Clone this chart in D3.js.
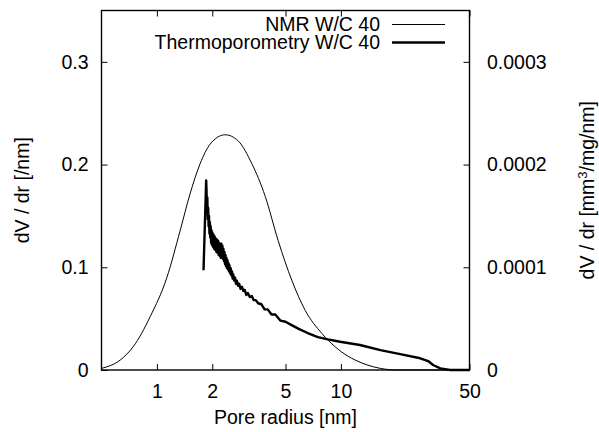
<!DOCTYPE html>
<html>
<head>
<meta charset="utf-8">
<script src="https://cdn.jsdelivr.net/npm/d3@7"></script>
<style>
  body { margin: 0; background: #fff; }
  svg { font-family: "Liberation Sans", Arial, Helvetica, sans-serif; }
  .axis text { font-size: 19.5px; fill: #000; }
  .axis line { stroke: #000; stroke-width: 1; }
</style>
</head>
<body>
<svg></svg>
<script>
var width = 599,
    height = 432;

// pore radius [nm] -> NMR dV/dr [/nm] (left axis)
var nmrRadius = [0.5, 0.632, 0.743, 0.92, 1.133, 1.339, 1.517, 1.719, 1.949, 2.35, 2.766, 3.28, 3.88, 4.56, 5.42, 6.40, 7.88, 9.31, 10.96, 11.96, 13.9, 16.36, 20.2, 30, 50];
var nmrValues = [0.0016, 0.0097, 0.0226, 0.052, 0.090, 0.136, 0.172, 0.201, 0.220, 0.229, 0.223, 0.201, 0.169, 0.126, 0.087, 0.058, 0.0356, 0.0226, 0.0133, 0.0097, 0.0049, 0.0016, 0, 0, 0];

// pore radius [nm] -> thermoporometry dV/dr [mm3/mg/nm] (right axis)
var thermoRadius = [
    1.792, 1.853,
    1.86, 1.87, 1.88, 1.89, 1.90, 1.91, 1.92, 1.93, 1.94, 1.95, 1.96, 1.97, 1.98, 1.99, 2.00,
    2.015, 2.03, 2.045, 2.06, 2.075, 2.09, 2.105, 2.12, 2.135, 2.15, 2.165, 2.18, 2.195, 2.21, 2.225,
    2.24, 2.255, 2.27, 2.285, 2.30, 2.315, 2.33, 2.345, 2.36, 2.375, 2.39, 2.405, 2.42, 2.435, 2.45, 2.465, 2.48,
    2.50, 2.52, 2.54, 2.56, 2.58, 2.60, 2.63, 2.66, 2.69, 2.72, 2.76, 2.80, 2.85, 2.90, 2.95, 3.00,
    3.06, 3.12, 3.20, 3.28, 3.36, 3.45, 3.55, 3.70, 3.85, 4.0, 4.2, 4.4, 4.7, 5.0, 5.4, 5.9,
    6.6, 7.5, 8.5, 9.9, 12.7, 16.4, 21.0, 27.0, 29.8, 31.7, 34.7, 39.3, 50];
var thermoValues = [
    0.971e-4, 1.845e-4,
    1.76e-4, 1.58e-4, 1.68e-4, 1.47e-4, 1.58e-4, 1.40e-4, 1.50e-4, 1.33e-4, 1.44e-4, 1.29e-4, 1.40e-4, 1.24e-4, 1.36e-4, 1.22e-4, 1.34e-4,
    1.20e-4, 1.32e-4, 1.18e-4, 1.30e-4, 1.17e-4, 1.28e-4, 1.15e-4, 1.27e-4, 1.14e-4, 1.26e-4, 1.12e-4, 1.24e-4, 1.11e-4, 1.22e-4, 1.09e-4,
    1.23e-4, 1.11e-4, 1.21e-4, 1.08e-4, 1.18e-4, 1.06e-4, 1.15e-4, 1.03e-4, 1.12e-4, 1.01e-4, 1.09e-4, 0.99e-4, 1.07e-4, 0.98e-4, 1.04e-4, 0.96e-4, 1.02e-4,
    0.94e-4, 0.99e-4, 0.92e-4, 0.96e-4, 0.89e-4, 0.93e-4, 0.87e-4, 0.90e-4, 0.84e-4, 0.87e-4, 0.82e-4, 0.84e-4, 0.79e-4, 0.81e-4, 0.77e-4, 0.78e-4,
    0.73e-4, 0.75e-4, 0.71e-4, 0.72e-4, 0.68e-4, 0.68e-4, 0.65e-4, 0.64e-4, 0.59e-4, 0.59e-4, 0.54e-4, 0.54e-4, 0.48e-4, 0.47e-4, 0.437e-4, 0.40e-4,
    0.36e-4, 0.32e-4, 0.298e-4, 0.275e-4, 0.243e-4, 0.194e-4, 0.155e-4, 0.114e-4, 0.087e-4, 0.049e-4, 0.016e-4, 0, 0];

var xTicks = [1, 2, 5, 10, 50];
var yTicks = [0, 0.1, 0.2, 0.3];
var y2Ticks = [0, 0.0001, 0.0002, 0.0003];

var legendLabels = ["NMR W/C 40", "Thermoporometry W/C 40"];

var plot = { left: 101.5, right: 469.5, top: 10.5, bottom: 370 };

var svg = d3.select("svg")
    .attr("width", width)
    .attr("height", height);

var x = d3.scaleLog()
    .domain([0.5, 50])
    .range([plot.left, plot.right]);

var y = d3.scaleLinear()
    .domain([0, 0.35])
    .range([plot.bottom, plot.top]);

var y2 = d3.scaleLinear()
    .domain([0, 0.00035])
    .range([plot.bottom, plot.top]);

function zeroOr(fmt) {
    return function (d) { return d === 0 ? "0" : fmt(d); };
}

// axes, ticks pointing inward
svg.append("g")
    .attr("class", "axis")
    .attr("transform", "translate(0," + plot.bottom + ")")
    .call(d3.axisBottom(x).tickValues(xTicks).tickFormat(d3.format("d"))
        .tickSizeInner(-6).tickSizeOuter(0).tickPadding(14))
    .call(function (g) { g.select(".domain").remove(); });

svg.append("g")
    .attr("class", "axis")
    .attr("transform", "translate(0," + plot.top + ")")
    .call(d3.axisTop(x).tickValues(xTicks).tickFormat("")
        .tickSizeInner(-6).tickSizeOuter(0))
    .call(function (g) { g.select(".domain").remove(); });

svg.append("g")
    .attr("class", "axis")
    .attr("transform", "translate(" + plot.left + ",0)")
    .call(d3.axisLeft(y).tickValues(yTicks).tickFormat(zeroOr(d3.format(".1f")))
        .tickSizeInner(-6).tickSizeOuter(0).tickPadding(13))
    .call(function (g) { g.select(".domain").remove(); });

svg.append("g")
    .attr("class", "axis")
    .attr("transform", "translate(" + plot.right + ",0)")
    .call(d3.axisRight(y2).tickValues(y2Ticks).tickFormat(zeroOr(d3.format(".4f")))
        .tickSizeInner(-6).tickSizeOuter(0).tickPadding(17.5))
    .call(function (g) { g.select(".domain").remove(); });

// frame
svg.append("rect")
    .attr("x", plot.left)
    .attr("y", plot.top)
    .attr("width", plot.right - plot.left)
    .attr("height", plot.bottom - plot.top)
    .attr("fill", "none")
    .attr("stroke", "#000")
    .attr("stroke-width", 1.4);

// curves
var nmrLine = d3.line()
    .x(function (d, i) { return x(nmrRadius[i]); })
    .y(function (d) { return y(d); })
    .curve(d3.curveMonotoneX);

var thermoLine = d3.line()
    .x(function (d, i) { return x(thermoRadius[i]); })
    .y(function (d) { return y2(d); });

svg.append("path")
    .datum(nmrValues)
    .attr("fill", "none")
    .attr("stroke", "#000")
    .attr("stroke-width", 1)
    .attr("d", nmrLine);

svg.append("path")
    .datum(thermoValues)
    .attr("fill", "none")
    .attr("stroke", "#000")
    .attr("stroke-width", 2.4)
    .attr("stroke-linejoin", "round")
    .attr("d", thermoLine);

// legend
var legend = svg.append("g")
    .selectAll("g")
    .data(legendLabels)
    .enter()
    .append("g")
    .attr("transform", function (d, i) { return "translate(0," + (24.5 + i * 18) + ")"; });

legend.append("text")
    .attr("x", 380)
    .attr("y", 6.8)
    .attr("text-anchor", "end")
    .style("font-size", "19.5px")
    .text(function (d) { return d; });

legend.append("line")
    .attr("x1", 392)
    .attr("x2", 445)
    .attr("stroke", "#000")
    .attr("stroke-width", function (d, i) { return i ? 2.4 : 1; });

// axis titles
svg.append("text")
    .attr("x", (plot.left + plot.right) / 2)
    .attr("y", 424)
    .attr("text-anchor", "middle")
    .style("font-size", "19.5px")
    .text("Pore radius [nm]");

svg.append("text")
    .attr("transform", "translate(29," + (plot.top + plot.bottom) / 2 + ") rotate(-90)")
    .attr("text-anchor", "middle")
    .style("font-size", "19.5px")
    .text("dV / dr [/nm]");

var y2Title = svg.append("text")
    .attr("transform", "translate(594," + (plot.top + plot.bottom) / 2 + ") rotate(-90)")
    .attr("text-anchor", "middle")
    .style("font-size", "19.5px");
y2Title.append("tspan").text("dV / dr [mm");
y2Title.append("tspan").attr("dy", -7).style("font-size", "13px").text("3");
y2Title.append("tspan").attr("dy", 7).text("/mg/nm]");
</script>
</body>
</html>
